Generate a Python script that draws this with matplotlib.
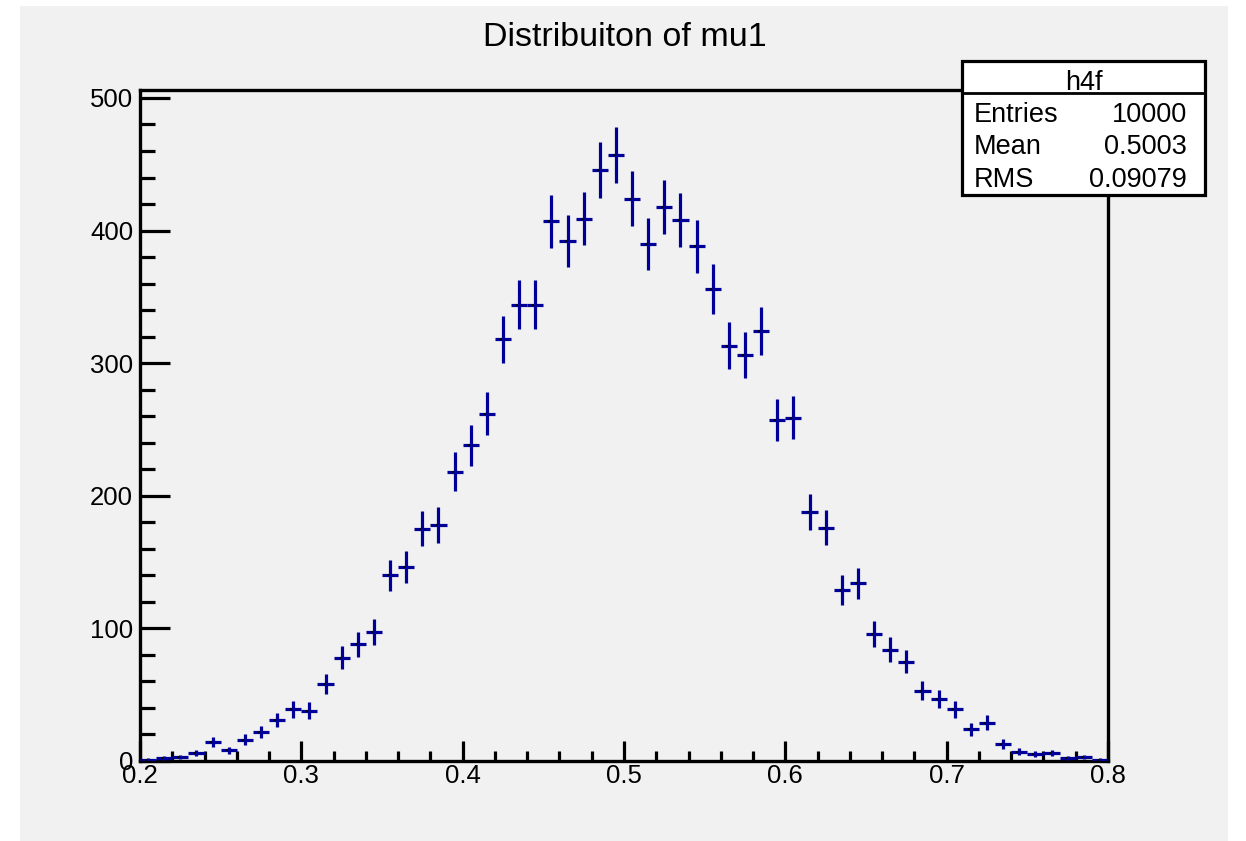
import numpy as np
import matplotlib
matplotlib.use("Agg")
import matplotlib.pyplot as plt
from matplotlib.patches import Rectangle
from matplotlib.lines import Line2D
from matplotlib.ticker import MultipleLocator, FuncFormatter

plt.rcParams['font.family'] = ['Liberation Sans', 'DejaVu Sans']

# Histogram h4f: 60 bins of width 0.01 between 0.2 and 0.8
bin_lo = 0.2
bin_hi = 0.8
n_bins = 60
counts = [
    1, 2, 3, 6, 14, 8, 16, 22, 31, 39,
    38, 58, 78, 88, 97, 140, 146, 175, 178, 218,
    238, 262, 318, 344, 344, 407, 392, 409, 446, 457,
    424, 390, 418, 408, 388, 356, 313, 306, 324, 257,
    259, 188, 176, 129, 134, 96, 84, 75, 53, 47,
    39, 24, 29, 13, 7, 5, 6, 2, 3, 1,
]
title = "Distribuiton of mu1"
stats_name = "h4f"
stats_labels = ["Entries", "Mean", "RMS"]
stats_values = ["10000", "0.5003", "0.09079"]

W, H, DPI = 1246, 841, 100
fig = plt.figure(figsize=(W / DPI, H / DPI), dpi=DPI, facecolor='white')


def fx(px):
    return px / W


def fy(py):
    return 1 - py / H


canvas_grey = '#f1f1f1'
fig.add_artist(Rectangle((fx(20), fy(841)), fx(1228) - fx(20), fy(6) - fy(841),
                         transform=fig.transFigure, facecolor=canvas_grey,
                         edgecolor='none', zorder=0))

ax = fig.add_axes([fx(140), fy(761), fx(1108) - fx(140), fy(90) - fy(761)])
ax.set_facecolor(canvas_grey)

edges = np.linspace(bin_lo, bin_hi, n_bins + 1)
centers = 0.5 * (edges[:-1] + edges[1:])
y = np.array(counts, dtype=float)
err = np.sqrt(y)
half_w = 0.5 * (edges[1] - edges[0])

ax.errorbar(centers, y, yerr=err, xerr=half_w, fmt='none',
            ecolor='#000099', elinewidth=2.3, capsize=0, zorder=3)
ax.plot(centers - 0.0012, y, 's', color='black', ms=1.8, mew=0, zorder=4)

ax.set_xlim(bin_lo, bin_hi)
ax.set_ylim(0, 506)

ax.xaxis.set_major_locator(MultipleLocator(0.1))
ax.xaxis.set_minor_locator(MultipleLocator(0.02))
ax.yaxis.set_major_locator(MultipleLocator(100))
ax.yaxis.set_minor_locator(MultipleLocator(20))
ax.xaxis.set_major_formatter(FuncFormatter(
    lambda v, p: '0' if abs(v) < 1e-9 else ('%g' % round(v, 3))))

ax.tick_params(axis='both', which='both', direction='in', width=2.3,
               labelsize=18.5, colors='black', top=False, right=False)
ax.tick_params(axis='x', which='major', length=14.5, pad=2)
ax.tick_params(axis='x', which='minor', length=7.2)
ax.tick_params(axis='y', which='major', length=21.6, pad=5)
ax.tick_params(axis='y', which='minor', length=10.8)

for s in ax.spines.values():
    s.set_linewidth(2.4)
    s.set_color('black')

# Title
fig.text(fx(625), fy(45.5), title, ha='center', va='baseline', fontsize=24.5)

# Statistics box
bx0, bx1, by0, by1 = 962, 1205, 61, 195
fig.add_artist(Rectangle((fx(bx0), fy(by1)), fx(bx1) - fx(bx0), fy(by0) - fy(by1),
                         transform=fig.transFigure, facecolor='white',
                         edgecolor='black', linewidth=2.3, zorder=10))
fig.add_artist(Line2D([fx(bx0), fx(bx1)], [fy(92.5), fy(92.5)],
                      transform=fig.transFigure, color='black',
                      linewidth=2.0, zorder=11))
fig.text(fx((bx0 + bx1) / 2), fy(89.5), stats_name, ha='center', va='baseline',
         fontsize=19.5, zorder=12)
row_baselines = [121.5, 154.5, 187]
for lab, val, yb in zip(stats_labels, stats_values, row_baselines):
    fig.text(fx(974), fy(yb), lab, ha='left', va='baseline', fontsize=19.5, zorder=12)
    fig.text(fx(1187), fy(yb), val, ha='right', va='baseline', fontsize=19.5, zorder=12)

fig.savefig('out.png', dpi=DPI, facecolor='white')
